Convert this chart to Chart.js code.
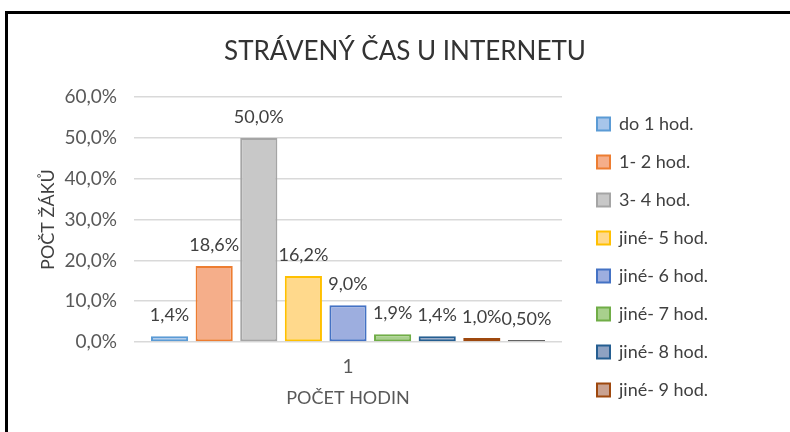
<!DOCTYPE html>
<html>
<head>
<meta charset="utf-8">
<script src="https://cdn.jsdelivr.net/npm/chart.js@4"></script>
<style>
  body { margin: 0; background: #fff; }
  #wrap { position: relative; width: 790px; height: 432px; overflow: hidden; }
  #frame { position: absolute; left: 5px; top: 11px; width: 800px; height: 440px;
           border-top: 3px solid #000; border-left: 3px solid #000; box-shadow: 1px 1px 1px #bbb; }
  canvas { position: absolute; left: 0; top: 0; }
</style>
</head>
<body>
<div id="wrap">
  <div id="frame"></div>
  <canvas id="time-chart" width="790" height="432"></canvas>
</div>
<script>
const categories = ['1'];
const seriesNames = ['do 1 hod.', '1- 2 hod.', '3- 4 hod.', 'jiné- 5 hod.', 'jiné- 6 hod.',
                     'jiné- 7 hod.', 'jiné- 8 hod.', 'jiné- 9 hod.', 'jiné- 10 hod.'];
const seriesValues = [1.4, 18.6, 50.0, 16.2, 9.0, 1.9, 1.4, 1.0, 0.5];
const valueLabels = ['1,4%', '18,6%', '50,0%', '16,2%', '9,0%', '1,9%', '1,4%', '1,0%', '0,50%'];
const fillColors = ['#A7C5EA', '#F5AE8A', '#C8C8C8', '#FFD98C', '#9DAEDF', '#A8D08D', '#8EA2C2', '#C9A291', '#9A9A9A'];
const lineColors = ['#5B9BD5', '#ED7D31', '#A5A5A5', '#FFC000', '#4472C4', '#70AD47', '#255E91', '#9E480E', '#636363'];
const yMin = 0, yMax = 60, yStep = 10;
const legendShown = 8;

const font = 'Lato';
const legendSize = 18, legendPad = 20, legendBox = 13;
const plotRight = 562, gap = 15;

const valueLabelPlugin = {
    id: 'valueLabels',
    afterDatasetsDraw(chart) {
        const ctx = chart.ctx;
        ctx.save();
        ctx.font = '18px ' + font;
        ctx.fillStyle = '#404040';
        ctx.textAlign = 'center';
        ctx.textBaseline = 'middle';
        chart.data.datasets.forEach((ds, i) => {
            const bar = chart.getDatasetMeta(i).data[0];
            ctx.fillText(valueLabels[i], bar.x, bar.y - 21);
        });
        ctx.restore();
    }
};

function build() {
    // legend width, so the legend sits where it should (+10 the legend adds itself)
    const mctx = document.createElement('canvas').getContext('2d');
    mctx.font = legendSize + 'px ' + font;
    let maxText = 0;
    seriesNames.slice(0, legendShown).forEach(n => { maxText = Math.max(maxText, mctx.measureText(n).width); });
    const legendW = legendPad + legendBox + legendSize / 2 + maxText + 10;
    const rightPad = Math.max(0, 790 - (plotRight + gap + legendW));

    const ctx = document.getElementById('time-chart');

    new Chart(ctx, {
        type: 'bar',
        data: {
            labels: categories,
            datasets: seriesNames.map((name, i) => ({
                label: name,
                data: [seriesValues[i]],
                backgroundColor: fillColors[i],
                borderColor: lineColors[i],
                borderWidth: 2,
                borderSkipped: false,
                categoryPercentage: 0.938,
                barPercentage: 0.833
            }))
        },
        plugins: [valueLabelPlugin],
        options: {
            responsive: false,
            animation: false,
            devicePixelRatio: 1,
            layout: { padding: { left: 20, right: 0, top: 0, bottom: 0 } },
            plugins: {
                tooltip: { enabled: false },
                title: {
                    display: true,
                    text: 'STRÁVENÝ ČAS U INTERNETU',
                    color: '#333333',
                    font: { family: font, size: 26, weight: 'normal' },
                    padding: { top: 36, bottom: 30 }
                },
                legend: {
                    position: 'right',
                    align: 'start',
                    maxWidth: 220,
                    title: { display: true, text: '', font: { size: 10 }, padding: { top: 83, bottom: 0 } },
                    labels: {
                        color: '#404040',
                        font: { family: font, size: legendSize },
                        boxWidth: legendBox,
                        boxHeight: legendBox,
                        padding: legendPad,
                        filter: item => item.datasetIndex < legendShown
                    }
                }
            },
            scales: {
                x: {
                    grid: { display: false },
                    border: { display: false },
                    ticks: { color: '#595959', font: { family: font, size: 19 }, padding: 5 },
                    title: {
                        display: true,
                        text: 'POČET HODIN',
                        color: '#595959',
                        font: { family: font, size: 18 },
                        padding: { top: 0, bottom: 23 }
                    },
                    afterFit: s => { s.height = 90; }
                },
                y: {
                    min: yMin,
                    max: yMax,
                    grid: { color: '#D9D9D9', lineWidth: 1.5, drawTicks: false },
                    border: { display: false },
                    ticks: {
                        stepSize: yStep,
                        color: '#595959',
                        font: { family: font, size: 19 },
                        padding: 17,
                        callback: v => v.toFixed(1).replace('.', ',') + '%'
                    },
                    title: {
                        display: true,
                        text: 'POČT ŽÁKŮ',
                        color: '#404040',
                        font: { family: font, size: 18 },
                        padding: { top: 17, bottom: 0 }
                    },
                    afterFit: s => { s.width = 114; }
                },
                gap: {
                    type: 'linear',
                    position: 'right',
                    weight: 1,
                    grid: { display: false },
                    border: { display: false },
                    ticks: { display: false },
                    afterFit: s => { s.width = gap; }
                },
                rightPad: {
                    type: 'linear',
                    position: 'right',
                    weight: 2000,
                    grid: { display: false },
                    border: { display: false },
                    ticks: { display: false },
                    afterFit: s => { s.width = rightPad; }
                }
            }
        }
    });
}

document.fonts.load(legendSize + 'px ' + font).then(build, build);
</script>
</body>
</html>
